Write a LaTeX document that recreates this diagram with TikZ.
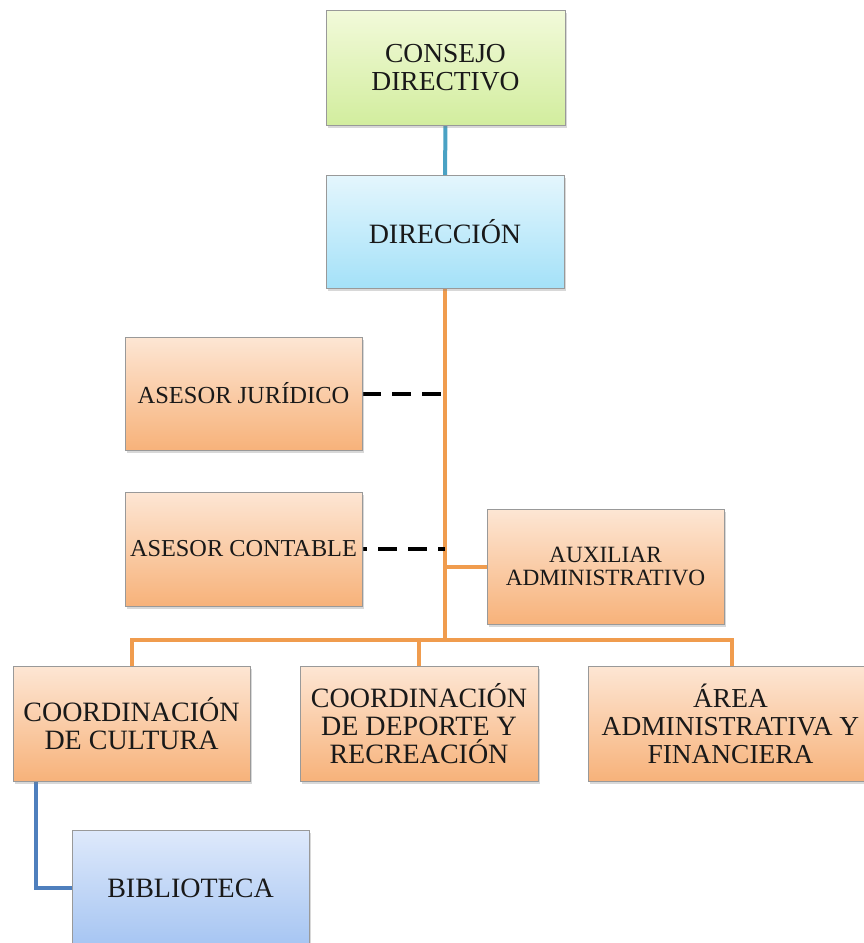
\documentclass[tikz,border=0pt]{standalone}
\usepackage{fontspec}
\setmainfont{Liberation Serif}
\newfontfamily\rmn{Liberation Serif}
\usetikzlibrary{shadows,backgrounds}

\definecolor{txt}{RGB}{25,25,25}
\definecolor{grnT}{RGB}{242,250,218}
\definecolor{grnB}{RGB}{210,237,158}
\definecolor{cyaT}{RGB}{228,246,253}
\definecolor{cyaB}{RGB}{164,225,248}
\definecolor{orgT}{RGB}{253,230,212}
\definecolor{orgB}{RGB}{247,178,122}
\definecolor{bluT}{RGB}{222,233,251}
\definecolor{bluB}{RGB}{166,197,242}
\definecolor{orgL}{RGB}{240,156,78}
\definecolor{cyaL}{RGB}{74,162,196}
\definecolor{bluL}{RGB}{79,127,189}

\tikzset{
  unit/.style={draw=black!40, line width=0.7pt, inner sep=0pt, outer sep=0pt,
    anchor=north west, align=center, text=txt,
    drop shadow={shadow xshift=1.5pt, shadow yshift=-2.5pt, opacity=0.3}},
  greenbox/.style={unit, top color=grnT, bottom color=grnB},
  cyanbox/.style={unit, top color=cyaT, bottom color=cyaB},
  orangebox/.style={unit, top color=orgT, bottom color=orgB},
  bluebox/.style={unit, top color=bluT, bottom color=bluB},
  orgline/.style={draw=orgL, line width=4pt},
  cyaline/.style={draw=cyaL, line width=4pt},
  bluline/.style={draw=bluL, line width=4pt},
  dashline/.style={draw=black, line width=4pt, dash pattern=on 19pt off 11pt}
}

\begin{document}
\begin{tikzpicture}[x=1pt, y=-1pt]
\useasboundingbox (0,0) rectangle (864,943);

% top of the hierarchy
\node[greenbox, minimum width=239pt, minimum height=115pt,
      font=\rmn\fontsize{27.5}{28}\selectfont] (consejo) at (326,10)
      {CONSEJO\\DIRECTIVO};
\node[cyanbox, minimum width=238pt, minimum height=113pt,
      font=\rmn\fontsize{28}{28}\selectfont] (direccion) at (326,175)
      {DIRECCIÓN};

% advisory units
\node[orangebox, minimum width=237pt, minimum height=113pt,
      font=\rmn\fontsize{24.5}{25}\selectfont] (asesorJ) at (125,337)
      {ASESOR JURÍDICO};
\node[orangebox, minimum width=237pt, minimum height=114pt,
      font=\rmn\fontsize{24.3}{25}\selectfont] (asesorC) at (125,492)
      {ASESOR CONTABLE};
\node[orangebox, minimum width=237pt, minimum height=115pt,
      font=\rmn\fontsize{23.3}{23}\selectfont] (aux) at (487,509)
      {AUXILIAR\\ADMINISTRATIVO};

% operating areas
\node[orangebox, minimum width=237pt, minimum height=115pt,
      font=\rmn\fontsize{28}{28}\selectfont] (cultura) at (13,666)
      {COORDINACIÓN\\DE CULTURA};
\node[orangebox, minimum width=238pt, minimum height=115pt,
      font=\rmn\fontsize{28}{28}\selectfont] (deporte) at (300,666)
      {COORDINACIÓN\\DE DEPORTE Y\\RECREACIÓN};
\node[orangebox, minimum width=282pt, minimum height=115pt,
      font=\rmn\fontsize{27.4}{28}\selectfont] (area) at (588,666)
      {\hspace*{3pt}ÁREA\\\hspace*{3pt}ADMINISTRATIVA Y\\\hspace*{3pt}FINANCIERA};

% library under culture
\node[bluebox, minimum width=237pt, minimum height=116pt,
      font=\rmn\fontsize{28}{28}\selectfont] (biblio) at (72,830)
      {BIBLIOTECA};

\coordinate (areadrop) at (732,640);
\coordinate (bstart) at (36,781);

\begin{scope}[on background layer]
  \fill[white] (0,0) rectangle (864,943);
  \draw[cyaline] (consejo.south) -- (direccion.north);
  \draw[orgline] (direccion.south) -- (direccion.south |- areadrop);
  \draw[orgline] (aux.west) -- (aux.west -| direccion.south);
  \draw[orgline] (cultura.north) |- (areadrop) -- (areadrop |- area.north);
  \draw[orgline] (deporte.north) -- (deporte.north |- areadrop);
  \draw[dashline, shorten >=4pt] (asesorJ.east) -- (asesorJ.east -| direccion.south);
  \draw[dashline, dash phase=14pt] (asesorC.east) -- (asesorC.east -| direccion.south);
  \draw[bluline] (bstart) |- (biblio.west);
\end{scope}
\end{tikzpicture}
\end{document}
